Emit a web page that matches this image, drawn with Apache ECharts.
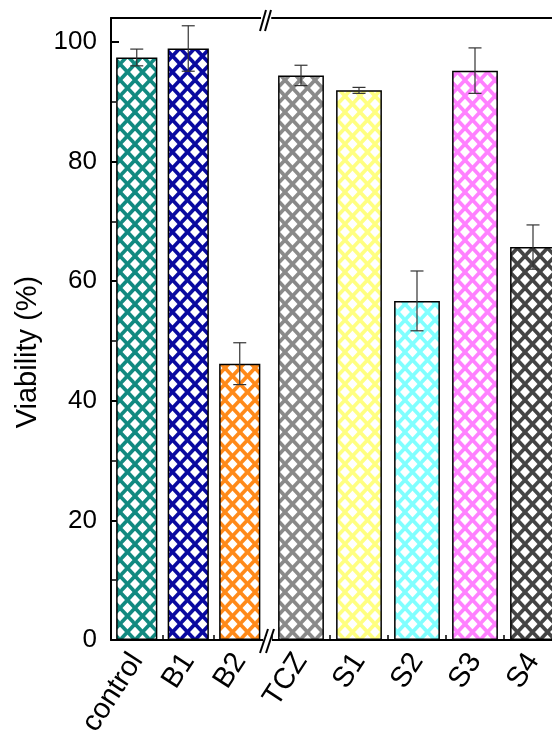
<!DOCTYPE html>
<html>
<head>
<meta charset="utf-8">
<script src="https://cdn.jsdelivr.net/npm/echarts@6/dist/echarts.min.js"></script>
<style>
html,body{margin:0;padding:0;background:#fff;overflow:hidden;}
#chart{width:552px;height:733px;}
</style>
</head>
<body>
<div id="chart"></div>
<script>
// ---- data ----
const leftCats = ['control', 'B1', 'B2'];
const leftVals = [97.4, 98.9, 46.2];
const leftErr = [1.4, 3.8, 3.5];
const leftColors = ['#128a80', '#0a0aa0', '#ff8a1a'];

const rightCats = ['TCZ', 'S1', 'S2', 'S3', 'S4'];
const rightVals = [94.4, 91.9, 56.7, 95.2, 65.7];
const rightErr = [1.7, 0.5, 5.0, 3.8, 3.7];
const rightColors = ['#8a8a8a', '#ffff80', '#80ffff', '#ff80ff', '#444444'];

const yTicks = [0, 20, 40, 60, 80, 100];

// ---- hatch pattern ----
function hatch(color) {
  const w = 15, h = 16;
  const c = document.createElement('canvas');
  c.width = w; c.height = h;
  const g = c.getContext('2d');
  g.fillStyle = '#fff';
  g.fillRect(0, 0, w, h);
  g.strokeStyle = color;
  g.lineWidth = 3.6;
  for (let k = -1; k <= 1; k++) {
    for (let j = -1; j <= 1; j++) {
      g.beginPath();
      g.moveTo(k * w, j * h); g.lineTo(k * w + w, j * h + h);
      g.stroke();
      g.beginPath();
      g.moveTo(k * w + w, j * h); g.lineTo(k * w, j * h + h);
      g.stroke();
    }
  }
  return { image: c, repeat: 'repeat' };
}

const FONT = 'Liberation Sans, Arial, sans-serif';

function barData(vals, colors) {
  return vals.map((v, i) => ({
    value: v,
    itemStyle: { color: hatch(colors[i]) }
  }));
}

function errSeries(vals, errs, xIdx, yIdx) {
  return {
    type: 'custom',
    xAxisIndex: xIdx, yAxisIndex: yIdx,
    z: 10,
    data: vals.map((v, i) => [i, v, errs[i]]),
    renderItem: function (params, api) {
      const x = api.value(0), v = api.value(1), e = api.value(2);
      const top = api.coord([x, v + e]);
      const bot = api.coord([x, v - e]);
      const hw = 6.5;
      const st = { stroke: '#333', lineWidth: 1.2 };
      return {
        type: 'group',
        children: [
          { type: 'line', shape: { x1: top[0], y1: top[1], x2: bot[0], y2: bot[1] }, style: st },
          { type: 'line', shape: { x1: top[0] - hw, y1: top[1], x2: top[0] + hw, y2: top[1] }, style: st },
          { type: 'line', shape: { x1: bot[0] - hw, y1: bot[1], x2: bot[0] + hw, y2: bot[1] }, style: st }
        ]
      };
    }
  };
}

const axisLineStyle = { color: '#000', width: 2 };

function xAxes(cats, gridIndex) {
  return [
    { // main bottom axis with labels & center ticks
      type: 'category', gridIndex: gridIndex, position: 'bottom', data: cats,
      axisLine: { show: true, lineStyle: axisLineStyle },
      axisTick: { show: true, inside: true, alignWithLabel: true, length: 12, lineStyle: { color: '#000', width: 1.5 } },
      axisLabel: { rotate: 57, fontSize: 29, color: '#000', fontFamily: FONT, margin: 16, interval: 0 },
      splitLine: { show: false }
    },
    { // boundary minor ticks
      type: 'category', gridIndex: gridIndex, position: 'bottom', data: cats,
      axisLine: { show: false },
      axisTick: { show: true, inside: true, alignWithLabel: false, length: 5, lineStyle: { color: '#000', width: 1.5 } },
      axisLabel: { show: false },
      splitLine: { show: false }
    },
    { // top line
      type: 'category', gridIndex: gridIndex, position: 'top', data: cats,
      axisLine: { show: true, lineStyle: axisLineStyle },
      axisTick: { show: false }, axisLabel: { show: false }, splitLine: { show: false }
    }
  ];
}

const chart = echarts.init(document.getElementById('chart'), null, { renderer: 'canvas' });

const option = {
  animation: false,
  backgroundColor: '#fff',
  grid: [
    { left: 111, top: 18, width: 154.5, bottom: 93, containLabel: false, outerBoundsMode: 'none' },
    { left: 272, top: 18, width: 290, bottom: 93, containLabel: false, outerBoundsMode: 'none' }
  ],
  xAxis: xAxes(leftCats, 0).concat(xAxes(rightCats, 1)),
  yAxis: [
    {
      type: 'value', gridIndex: 0, min: 0, max: 104, interval: 20,
      name: 'Viability (%)', nameLocation: 'middle', nameGap: 69,
      nameTextStyle: { fontSize: 29, color: '#000', fontFamily: FONT, padding: [0, 46, 0, 0] },
      axisLine: { show: true, lineStyle: axisLineStyle },
      axisTick: { show: true, inside: true, length: 8, lineStyle: { color: '#000', width: 2 } },
      minorTick: { show: true, splitNumber: 2, length: 5, lineStyle: { color: '#000', width: 1.5 } },
      axisLabel: {
        fontSize: 26, color: '#000', fontFamily: FONT, margin: 14, showMaxLabel: false,
        formatter: function (v) { return yTicks.indexOf(v) >= 0 ? String(v) : ''; }
      },
      splitLine: { show: false }
    },
    {
      type: 'value', gridIndex: 1, min: 0, max: 104, interval: 20, show: false,
      splitLine: { show: false }
    }
  ],
  series: [
    {
      type: 'bar', xAxisIndex: 0, yAxisIndex: 0, barCategoryGap: '20%',
      itemStyle: { borderColor: '#000', borderWidth: 1.5 },
      data: barData(leftVals, leftColors)
    },
    {
      type: 'bar', xAxisIndex: 3, yAxisIndex: 1, barCategoryGap: '21%',
      itemStyle: { borderColor: '#000', borderWidth: 1.5 },
      data: barData(rightVals, rightColors)
    },
    errSeries(leftVals, leftErr, 0, 0),
    errSeries(rightVals, rightErr, 3, 1)
  ],
  graphic: [
    // top break
    { type: 'rect', shape: { x: 261, y: 14, width: 9, height: 8 }, style: { fill: '#fff' }, z: 100 },
    { type: 'line', shape: { x1: 260, y1: 31, x2: 266, y2: 10 }, style: { stroke: '#000', lineWidth: 2 }, z: 101 },
    { type: 'line', shape: { x1: 265, y1: 31, x2: 271, y2: 10 }, style: { stroke: '#000', lineWidth: 2 }, z: 101 },
    // bottom break
    { type: 'rect', shape: { x: 263, y: 636, width: 9, height: 8 }, style: { fill: '#fff' }, z: 100 },
    { type: 'line', shape: { x1: 260, y1: 653, x2: 268, y2: 629 }, style: { stroke: '#000', lineWidth: 2 }, z: 101 },
    { type: 'line', shape: { x1: 266, y1: 653, x2: 274, y2: 629 }, style: { stroke: '#000', lineWidth: 2 }, z: 101 }
  ]
};

chart.setOption(option);
</script>
</body>
</html>
